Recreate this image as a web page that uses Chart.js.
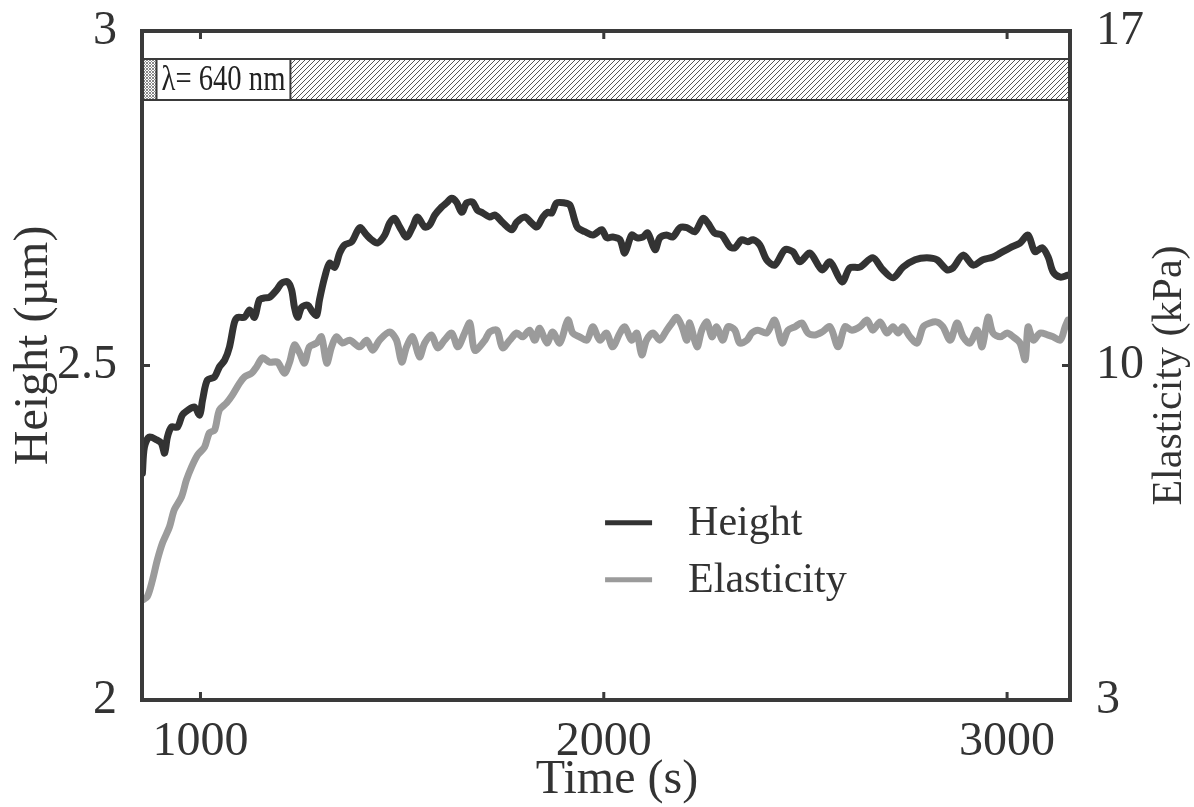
<!DOCTYPE html>
<html><head><meta charset="utf-8">
<script src="https://cdn.jsdelivr.net/npm/chart.js@4.4.1/dist/chart.umd.min.js"></script>
<style>html,body{margin:0;padding:0;background:#fff}#wrap{width:1194px;height:807px;position:relative}</style>
</head><body><div id="wrap"><canvas id="c"></canvas></div>
<script>
const xTicks = [1000, 2000, 3000];
const heightTicks = [2, 2.5, 3];
const elastTicks = [3, 10, 17];
const seriesLabels = ['Height', 'Elasticity'];
const axisTitles = {x: 'Time (s)', y: 'Height (µm)', y1: 'Elasticity (kPa)'};
const bandLabel = 'λ= 640 nm';
const bandHeightRange = [2.897, 2.958];
const bandLabelTimeSpan = [891, 1223];

const heightTime = [
 856,861,873,891,903,911,918,928,943,955,
 968,985,998,1005,1017,1035,1047,1060,1072,1084,
 1092,1109,1122,1134,1146,1159,1171,1189,1201,1216,
 1226,1233,1241,1251,1266,1278,1288,1295,1308,1320,
 1333,1345,1357,1375,1395,1412,1424,1439,1457,1469,
 1481,1494,1511,1526,1538,1556,1568,1581,1598,1610,
 1623,1635,1648,1660,1675,1687,1700,1717,1730,1749,
 1772,1784,1804,1821,1834,1849,1861,1871,1883,1903,
 1916,1928,1935,1953,1973,1995,2007,2022,2040,2052,
 2069,2082,2097,2109,2127,2139,2156,2171,2189,2206,
 2226,2246,2258,2275,2293,2313,2325,2342,2357,2370,
 2387,2404,2424,2449,2469,2486,2511,2541,2561,2591,
 2610,2635,2667,2692,2717,2742,2772,2801,2826,2851,
 2866,2891,2916,2940,2965,2983,3007,3032,3052,3069,
 3087,3102,3114,3132,3151];
const heightVals = [
 2.339,2.378,2.393,2.389,2.384,2.369,2.393,2.408,2.408,2.426,
 2.433,2.438,2.426,2.448,2.478,2.483,2.498,2.508,2.528,2.564,
 2.572,2.572,2.583,2.572,2.598,2.601,2.602,2.613,2.623,2.625,
 2.613,2.587,2.572,2.587,2.590,2.580,2.575,2.598,2.632,2.653,
 2.647,2.668,2.680,2.685,2.706,2.695,2.688,2.683,2.695,2.713,
 2.720,2.707,2.692,2.707,2.722,2.707,2.710,2.725,2.737,2.743,
 2.750,2.744,2.729,2.743,2.744,2.732,2.728,2.722,2.725,2.714,
 2.703,2.714,2.722,2.713,2.707,2.722,2.729,2.728,2.743,2.743,
 2.740,2.717,2.706,2.700,2.695,2.703,2.691,2.692,2.688,2.668,
 2.695,2.691,2.692,2.698,2.673,2.691,2.695,2.692,2.706,2.706,
 2.700,2.720,2.713,2.698,2.695,2.677,2.676,2.688,2.685,2.688,
 2.680,2.658,2.650,2.673,2.670,2.655,2.668,2.643,2.655,2.625,
 2.646,2.647,2.661,2.643,2.631,2.647,2.658,2.661,2.658,2.643,
 2.646,2.665,2.650,2.658,2.662,2.668,2.676,2.683,2.695,2.670,
 2.676,2.662,2.640,2.632,2.635];

const elastTime = [
 856,868,881,893,906,923,935,953,965,978,
 993,1010,1022,1035,1047,1065,1079,1097,1109,1127,
 1139,1154,1171,1191,1208,1221,1233,1246,1258,1270,
 1288,1300,1313,1325,1337,1352,1370,1395,1412,1427,
 1444,1469,1486,1499,1511,1526,1543,1556,1573,1588,
 1605,1623,1638,1655,1668,1680,1705,1717,1735,1749,
 1767,1784,1799,1816,1829,1841,1859,1873,1891,1911,
 1923,1940,1958,1973,1990,2007,2022,2040,2052,2069,
 2082,2094,2106,2122,2139,2156,2169,2181,2194,2206,
 2213,2231,2243,2256,2268,2280,2295,2308,2325,2337,
 2355,2367,2382,2404,2424,2442,2457,2474,2491,2506,
 2524,2541,2561,2581,2598,2615,2635,2653,2667,2685,
 2702,2717,2730,2742,2759,2777,2792,2809,2826,2841,
 2859,2876,2891,2908,2926,2938,2953,2965,2983,3000,
 3015,3032,3045,3052,3065,3082,3100,3114,3132,3144,
 3151];
const elastVals = [
 5.09,5.16,5.51,5.93,6.29,6.62,6.98,7.25,7.60,7.88,
 8.13,8.29,8.59,8.65,9.07,9.22,9.38,9.63,9.76,9.84,
 9.97,10.16,10.07,10.07,9.84,10.07,10.43,10.26,10.05,10.39,
 10.47,10.60,10.05,10.39,10.60,10.47,10.53,10.39,10.53,10.32,
 10.53,10.70,10.53,10.07,10.39,10.60,10.18,10.47,10.64,10.37,
 10.53,10.68,10.39,10.68,10.89,10.32,10.53,10.70,10.74,10.37,
 10.53,10.68,10.60,10.74,10.53,10.78,10.47,10.70,10.47,10.95,
 10.68,10.60,10.53,10.81,10.53,10.68,10.39,10.68,10.81,10.53,
 10.68,10.22,10.53,10.68,10.53,10.74,10.89,11.01,10.81,10.53,
 10.89,10.39,10.74,10.91,10.60,10.81,10.53,10.81,10.74,10.47,
 10.53,10.68,10.74,10.68,10.95,10.47,10.74,10.81,10.89,10.68,
 10.64,10.70,10.81,10.39,10.81,10.74,10.81,10.95,10.74,10.91,
 10.68,10.81,10.68,10.81,10.60,10.47,10.81,10.89,10.91,10.81,
 10.53,10.89,10.60,10.47,10.74,10.39,11.01,10.68,10.60,10.68,
 10.60,10.47,10.12,10.81,10.53,10.68,10.64,10.60,10.53,10.81,
 10.95];

const SERIF = '"Liberation Serif", "Times New Roman", serif';
const INK = '#333333';

function makeHatch(ctx, s, color, cross) {
  const c = document.createElement('canvas');
  c.width = s; c.height = s;
  const g = c.getContext('2d');
  g.fillStyle = '#fff'; g.fillRect(0, 0, s, s);
  g.strokeStyle = color; g.lineWidth = 1;
  g.beginPath();
  for (const k of [-s, 0, s]) {
    g.moveTo(k, s); g.lineTo(k + s, 0);
    if (cross) { g.moveTo(k, 0); g.lineTo(k + s, s); }
  }
  g.stroke();
  return ctx.createPattern(c, 'repeat');
}

const decor = {
  id: 'decor',
  beforeDatasetsDraw(chart) {
    const {ctx, chartArea: a, scales: {x, y}} = chart;
    const yt = y.getPixelForValue(bandHeightRange[1]);
    const yb = y.getPixelForValue(bandHeightRange[0]);
    const xl = x.getPixelForValue(bandLabelTimeSpan[0]);
    const xr = x.getPixelForValue(bandLabelTimeSpan[1]);
    ctx.save();
    ctx.fillStyle = makeHatch(ctx, 5, '#555', false);
    ctx.fillRect(xr, yt, a.right - xr, yb - yt);
    ctx.fillStyle = makeHatch(ctx, 3, '#8a8a8a', true);
    ctx.fillRect(a.left, yt, xl - a.left, yb - yt);
    ctx.fillStyle = '#fff';
    ctx.fillRect(xl, yt, xr - xl, yb - yt);
    ctx.strokeStyle = '#3a3a3a'; ctx.lineWidth = 2;
    ctx.beginPath();
    ctx.moveTo(a.left, yt); ctx.lineTo(a.right, yt);
    ctx.moveTo(a.left, yb); ctx.lineTo(a.right, yb);
    ctx.moveTo(xl, yt); ctx.lineTo(xl, yb);
    ctx.moveTo(xr, yt); ctx.lineTo(xr, yb);
    ctx.stroke();
    ctx.fillStyle = '#222';
    ctx.font = '35px ' + SERIF;
    ctx.textAlign = 'center'; ctx.textBaseline = 'middle';
    const w = ctx.measureText(bandLabel).width;
    const target = (xr - xl) - 10;
    ctx.translate((xl + xr) / 2, (yt + yb) / 2 + 1);
    if (w > target) ctx.scale(target / w, 1);
    ctx.fillText(bandLabel, 0, 0);
    ctx.restore();
  },
  afterDatasetsDraw(chart) {
    const {ctx, chartArea: a, scales: {x, y, y1}} = chart;
    ctx.save();
    ctx.strokeStyle = '#3a3a3a';
    const tl = 8;
    ctx.lineWidth = 3;
    ctx.beginPath();
    x.ticks.forEach(t => {
      const p = x.getPixelForValue(t.value);
      ctx.moveTo(p, a.bottom); ctx.lineTo(p, a.bottom - tl);
      ctx.moveTo(p, a.top); ctx.lineTo(p, a.top + tl);
    });
    y.ticks.forEach(t => {
      const p = y.getPixelForValue(t.value);
      ctx.moveTo(a.left, p); ctx.lineTo(a.left + tl, p);
    });
    y1.ticks.forEach(t => {
      const p = y1.getPixelForValue(t.value);
      ctx.moveTo(a.right, p); ctx.lineTo(a.right - tl, p);
    });
    ctx.stroke();
    ctx.lineWidth = 4;
    ctx.strokeRect(a.left, a.top, a.right - a.left, a.bottom - a.top);

    // legend
    const lx = a.left + (a.right - a.left) * 0.499;
    const ly = a.top + (a.bottom - a.top) * 0.735;
    ctx.font = '42px ' + SERIF;
    ctx.textAlign = 'left'; ctx.textBaseline = 'alphabetic';
    chart.data.datasets.forEach((ds, i) => {
      const yy = ly + i * 57;
      ctx.strokeStyle = ds.borderColor; ctx.lineWidth = 5; ctx.lineCap = 'butt';
      ctx.beginPath(); ctx.moveTo(lx, yy); ctx.lineTo(lx + 47, yy); ctx.stroke();
      ctx.fillStyle = INK;
      ctx.fillText(ds.label, lx + 83, yy + 12);
    });

    // axis titles
    ctx.fillStyle = INK;
    ctx.font = '48px ' + SERIF;
    ctx.textAlign = 'center'; ctx.textBaseline = 'alphabetic';
    ctx.fillText(axisTitles.x, (a.left + a.right) / 2 + 11, a.bottom + 93);
    ctx.save();
    ctx.translate(a.left - 95, a.top + (a.bottom - a.top) * 0.47);
    ctx.rotate(-Math.PI / 2);
    ctx.fillText(axisTitles.y, 0, 0);
    ctx.restore();
    ctx.save();
    ctx.font = '42px ' + SERIF;
    ctx.translate(a.right + 111, a.top + (a.bottom - a.top) * 0.515);
    ctx.rotate(-Math.PI / 2);
    ctx.fillText(axisTitles.y1, 0, 0);
    ctx.restore();
    ctx.restore();
  }
};

const tickFont = {family: SERIF, size: 48};
const fmt = v => String(v);
const noPad = s => { s.paddingTop = 0; s.paddingBottom = 0; s.paddingLeft = 0; s.paddingRight = 0; };

new Chart(document.getElementById('c'), {
  type: 'line',
  data: {
    datasets: [
      {
        label: seriesLabels[0], yAxisID: 'y',
        data: heightTime.map((t, i) => ({x: t, y: heightVals[i]})),
        borderColor: '#333333', borderWidth: 7, pointRadius: 0, tension: 0.3,
        borderCapStyle: 'round', borderJoinStyle: 'round', fill: false
      },
      {
        label: seriesLabels[1], yAxisID: 'y1',
        data: elastTime.map((t, i) => ({x: t, y: elastVals[i]})),
        borderColor: '#9b9b9b', borderWidth: 7, pointRadius: 0, tension: 0.3,
        borderCapStyle: 'round', borderJoinStyle: 'round', fill: false
      }
    ]
  },
  options: {
    responsive: true, maintainAspectRatio: false, animation: false, events: [],
    layout: {padding: {top: 31, left: 0, right: 0, bottom: 0}},
    plugins: {legend: {display: false}, tooltip: {enabled: false}},
    scales: {
      x: {
        type: 'linear', min: 855, max: 3156,
        afterBuildTicks: s => { s.ticks = xTicks.map(v => ({value: v})); },
        afterFit: s => { s.height = 107; noPad(s); },
        grid: {display: false}, border: {display: false},
        ticks: {font: tickFont, color: INK, padding: 6, maxRotation: 0, autoSkip: false, callback: fmt}
      },
      y: {
        type: 'linear', position: 'left', min: 2, max: 3,
        afterBuildTicks: s => { s.ticks = heightTicks.map(v => ({value: v})); },
        afterFit: s => { s.width = 142; noPad(s); },
        grid: {display: false}, border: {display: false},
        ticks: {font: tickFont, color: INK, padding: 17, autoSkip: false, callback: fmt}
      },
      y1: {
        type: 'linear', position: 'right', min: 3, max: 17,
        afterBuildTicks: s => { s.ticks = elastTicks.map(v => ({value: v})); },
        afterFit: s => { s.width = 124; noPad(s); },
        grid: {display: false}, border: {display: false},
        ticks: {font: tickFont, color: INK, padding: 18, autoSkip: false, callback: fmt}
      }
    }
  },
  plugins: [decor]
});
</script>
</body></html>
